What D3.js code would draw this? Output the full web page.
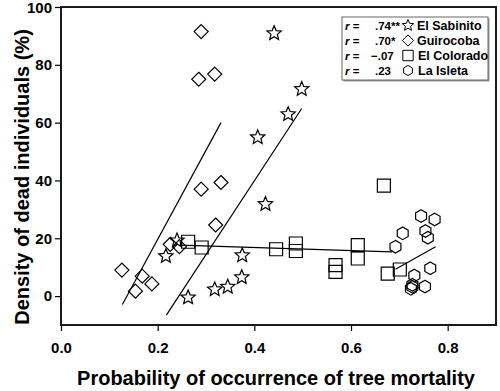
<!DOCTYPE html>
<html>
<head>
<meta charset="utf-8">
<script src="https://cdn.jsdelivr.net/npm/d3@7"></script>
<style>
  body { margin: 0; background: #fff; }
  svg { font-family: "Liberation Sans", Arial, sans-serif; }
</style>
</head>
<body>
<svg id="chart" width="500" height="391"></svg>
<script>
// Values
const xTicks = [0, 0.2, 0.4, 0.6, 0.8];
const yTicks = [0, 20, 40, 60, 80, 100];

const sites = ["El Sabinito", "Guirocoba", "El Colorado", "La Isleta"];
const rValues = [".74**", ".70*", "\u2212.07", ".23"];

const sabinitoX = [0.441, 0.498, 0.470, 0.407, 0.423, 0.240, 0.217, 0.375, 0.374, 0.345, 0.318, 0.263];
const sabinitoY = [90.9, 71.6, 62.9, 54.9, 31.8, 19.2, 13.8, 14.1, 6.5, 3.2, 2.3, -0.5];

const guirocobaX = [0.290, 0.285, 0.318, 0.290, 0.331, 0.320, 0.226, 0.245, 0.126, 0.168, 0.188, 0.154];
const guirocobaY = [91.5, 75.0, 76.8, 37.0, 39.3, 24.6, 17.9, 17.1, 9.0, 6.9, 4.2, 1.7];

const coloradoX = [0.263, 0.291, 0.445, 0.486, 0.486, 0.568, 0.568, 0.614, 0.614, 0.668, 0.676, 0.701];
const coloradoY = [18.8, 16.8, 16.2, 18.2, 15.6, 10.7, 8.4, 17.6, 13.0, 38.2, 7.8, 9.2];

const isletaX = [0.745, 0.773, 0.707, 0.754, 0.759, 0.692, 0.764, 0.731, 0.753, 0.727, 0.724, 0.727];
const isletaY = [27.7, 26.5, 21.7, 22.5, 20.2, 17.1, 9.6, 7.1, 3.3, 3.2, 2.5, 3.9];

// fitted lines: [x start, x end], [y start, y end]
const sabinitoFitX = [0.218, 0.498], sabinitoFitY = [-6.6, 64.9];
const guirocobaFitX = [0.127, 0.331], guirocobaFitY = [-2.9, 60.0];
const coloradoFitX = [0.245, 0.685], coloradoFitY = [17.6, 15.3];
const isletaFitX = [0.692, 0.775], isletaFitY = [9.3, 17.1];

const svg = d3.select("#chart");
const margin = {left: 61, right: 4, top: 7, bottom: 66};
const width = 500 - margin.left - margin.right;
const height = 391 - margin.top - margin.bottom;

const x = d3.scaleLinear().domain([0, 0.9]).range([0, width]);
const y = d3.scaleLinear().domain([-10, 100]).range([height, 0]);

const g = svg.append("g").attr("transform", `translate(${margin.left},${margin.top})`);

// custom marker shapes (size ~ radius in px)
const star = {
  draw(ctx, r) {
    for (let i = 0; i < 10; i++) {
      const rr = i % 2 ? r * 0.45 : r;
      const a = -Math.PI / 2 + i * Math.PI / 5;
      i ? ctx.lineTo(rr * Math.cos(a), rr * Math.sin(a)) : ctx.moveTo(rr * Math.cos(a), rr * Math.sin(a));
    }
    ctx.closePath();
  }
};
const diamond = {
  draw(ctx, r) {
    ctx.moveTo(0, -r); ctx.lineTo(r, 0); ctx.lineTo(0, r); ctx.lineTo(-r, 0); ctx.closePath();
  }
};
const square = {
  draw(ctx, r) { ctx.rect(-r, -r, 2 * r, 2 * r); }
};
const hexagon = {
  draw(ctx, r) {
    for (let i = 0; i < 6; i++) {
      const a = -Math.PI / 2 + i * Math.PI / 3;
      i ? ctx.lineTo(r * Math.cos(a), r * Math.sin(a)) : ctx.moveTo(r * Math.cos(a), r * Math.sin(a));
    }
    ctx.closePath();
  }
};

const series = [
  {xs: sabinitoX, ys: sabinitoY, fx: sabinitoFitX, fy: sabinitoFitY, shape: star, r: 7.5},
  {xs: guirocobaX, ys: guirocobaY, fx: guirocobaFitX, fy: guirocobaFitY, shape: diamond, r: 7},
  {xs: coloradoX, ys: coloradoY, fx: coloradoFitX, fy: coloradoFitY, shape: square, r: 6.5},
  {xs: isletaX, ys: isletaY, fx: isletaFitX, fy: isletaFitY, shape: hexagon, r: 6.3}
];

// fit lines
const line = d3.line().x(d => x(d[0])).y(d => y(d[1]));
series.forEach(s => {
  g.append("path")
    .attr("d", line([[s.fx[0], s.fy[0]], [s.fx[1], s.fy[1]]]))
    .attr("fill", "none")
    .attr("stroke", "#000")
    .attr("stroke-width", 1.2);
});

// markers
series.forEach(s => {
  const sym = d3.symbol().type(s.shape).size(s.r);
  g.append("g").selectAll("path")
    .data(s.xs.map((v, i) => [v, s.ys[i]]))
    .enter().append("path")
      .attr("transform", d => `translate(${x(d[0])},${y(d[1])})`)
      .attr("d", sym)
      .attr("fill", "none")
      .attr("stroke", "#000")
      .attr("stroke-width", 1.2);
});

// axes
const xAxis = g.append("g")
  .attr("transform", `translate(0,${height})`)
  .call(d3.axisBottom(x).tickValues(xTicks).tickFormat(d3.format(".1f")).tickSize(6).tickPadding(11));
const yAxis = g.append("g")
  .call(d3.axisLeft(y).tickValues(yTicks).tickSize(6).tickPadding(3));

[xAxis, yAxis].forEach(a => {
  a.select(".domain").remove();
  a.selectAll("line").attr("stroke", "#000").attr("stroke-width", 1.2);
  a.selectAll("text").attr("fill", "#000")
    .style("font-size", "15px").style("font-weight", "bold");
});
// keep the top label inside the picture
yAxis.selectAll(".tick").filter(d => d === 100).select("text").attr("dy", "0.38em");

// frame
g.append("rect")
  .attr("width", width).attr("height", height)
  .attr("fill", "none").attr("stroke", "#1a1a1a").attr("stroke-width", 2);

// axis titles
svg.append("text")
  .attr("x", 276).attr("y", 385)
  .attr("text-anchor", "middle")
  .style("font-size", "20px").style("font-weight", "bold")
  .text("Probability of occurrence of tree mortality");

svg.append("text")
  .attr("transform", "translate(29,177) rotate(-90)")
  .attr("text-anchor", "middle")
  .style("font-size", "20px").style("font-weight", "bold")
  .text("Density of dead individuals (%)");

// legend
const legend = svg.append("g").attr("transform", "translate(342,17)");
legend.append("rect")
  .attr("x", 1.5).attr("y", 1.5).attr("width", 146).attr("height", 63)
  .attr("fill", "#999");
legend.append("rect")
  .attr("width", 146).attr("height", 63)
  .attr("fill", "#fff").attr("stroke", "#666").attr("stroke-width", 1);

sites.forEach((name, i) => {
  const row = legend.append("g").attr("transform", `translate(0,${8.5 + i * 15})`);
  const t = row.append("text").attr("x", 3).attr("y", 4.5)
    .style("font-size", "11.5px").style("font-weight", "bold");
  t.append("tspan").style("font-style", "italic").text("r");
  t.append("tspan").text(" =");
  row.append("text").attr("x", i === 2 ? 29 : 33).attr("y", 4.5)
    .style("font-size", "11.5px").style("font-weight", "bold")
    .text(rValues[i]);
  row.append("path")
    .attr("transform", `translate(${66},0)`)
    .attr("d", d3.symbol().type(series[i].shape).size(series[i].r * 0.8))
    .attr("fill", "none").attr("stroke", "#000").attr("stroke-width", 1);
  row.append("text").attr("x", i >= 2 ? 76 : 75).attr("y", 4.5)
    .style("font-size", "12.5px").style("font-weight", "bold")
    .text(name);
});
</script>
</body>
</html>
